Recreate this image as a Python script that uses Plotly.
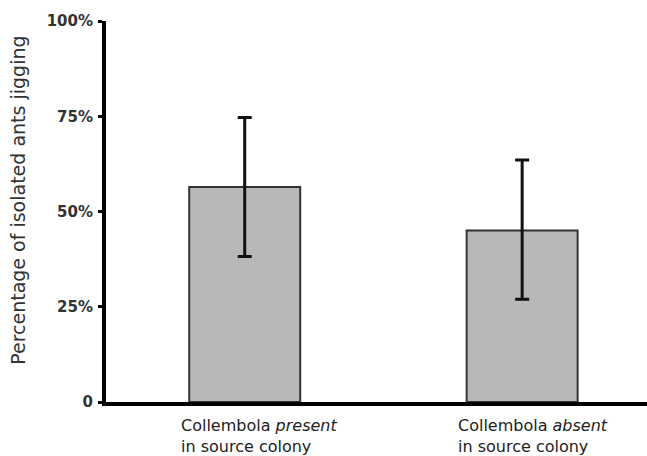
import plotly.graph_objects as go

categories = ["Collembola <i>present</i><br>in source colony", "Collembola <i>absent</i><br>in source colony"]
values = [56.4, 45.0]
err_plus = [18.3, 18.5]
err_minus = [18.2, 18.0]
y_tickvals = [0, 25, 50, 75, 100]
y_ticktext = ["0", "25%", "50%", "75%", "100%"]
y_title = "Percentage of isolated ants jigging"

xs = list(range(len(categories)))

fig = go.Figure()
fig.add_trace(go.Bar(
    x=xs, y=values, width=0.4,
    marker=dict(color="#b8b8b8", line=dict(color="#333333", width=2)),
    error_y=dict(type="data", symmetric=False, array=err_plus, arrayminus=err_minus,
                 color="#111111", thickness=3, width=7),
))

for i, c in enumerate(categories):
    fig.add_annotation(x=xs[i], y=0, xref="x", yref="y", text=c, showarrow=False,
                       xanchor="left", yanchor="top", align="left", xshift=-66, yshift=-12,
                       font=dict(family="DejaVu Sans", size=16, color="#222222"))

fig.add_annotation(x=-88 / 541, y=0.528, xref="paper", yref="paper", text=y_title,
                   showarrow=False, textangle=-90, xanchor="center", yanchor="middle",
                   font=dict(family="DejaVu Sans", size=19, color="#333333"))

fig.update_layout(
    width=647, height=456,
    margin=dict(l=106, r=0, t=21, b=54),
    plot_bgcolor="white", paper_bgcolor="white",
    showlegend=False,
    font=dict(family="DejaVu Sans", color="#333333"),
    xaxis=dict(range=[-0.5, 1.45], showticklabels=False, ticks="", showgrid=False,
               zeroline=False, showline=True, linecolor="#000000", linewidth=4,
               automargin=False),
    yaxis=dict(range=[0, 100], tickvals=y_tickvals, ticktext=y_ticktext, showgrid=False,
               zeroline=False, showline=True, linecolor="#000000", linewidth=4,
               ticks="outside", ticklen=4, tickwidth=3, tickcolor="#000000",
               ticklabelstandoff=2, automargin=False,
               tickfont=dict(family="DejaVu Sans", size=15, color="#333333", weight="bold")),
)

fig.write_html("out.html", config={"displayModeBar": False},
               post_script="document.body.style.margin='0';document.body.style.overflow='hidden';")
